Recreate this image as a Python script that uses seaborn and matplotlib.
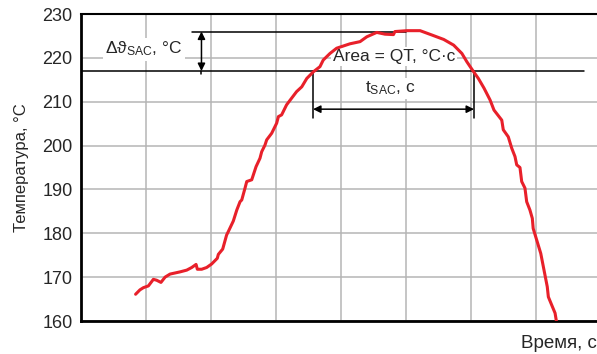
import matplotlib
matplotlib.use("Agg")
import matplotlib.pyplot as plt
import seaborn as sns
import pandas as pd

# time (s) and temperature (°C)
time_s = [25.2, 27.2, 28.8, 31.1, 33.4, 34.9, 36.9, 38.8, 41.1, 45.7, 48.8, 51.1, 53.1, 53.7,
          55.7, 58.0, 60.3, 62.9, 63.4, 65.4, 67.2, 68.0, 70.3, 71.9, 73.4, 74.2, 75.7, 76.5,
          78.8, 80.8, 82.6, 83.4, 84.9, 85.7, 88.0, 88.8, 90.3, 91.1, 92.6, 94.9, 97.2, 99.5,
          101.9, 104.2, 107.2, 110.3, 111.8, 114.9, 118.0, 124.1, 128.8, 131.9, 136.5, 140.3,
          144.2, 144.9, 150.5, 156.5, 162.0, 167.4, 172.0, 175.8, 178.1, 181.1, 183.4, 186.0,
          188.8, 190.6, 194.2, 194.9, 197.2, 198.8, 200.3, 201.1, 202.6, 203.4, 204.9, 205.7,
          207.2, 208.3, 208.7, 210.3, 212.2, 213.7, 215.2, 215.7, 217.2, 218.8, 219.4]
temp_c = [166.1, 167.1, 167.6, 168.0, 169.5, 169.3, 168.8, 170.0, 170.7, 171.2, 171.6, 172.2, 172.9, 171.8,
          171.8, 172.2, 173.0, 174.3, 175.2, 176.4, 179.6, 180.4, 182.8, 185.3, 187.2, 187.6, 190.3, 191.8,
          192.2, 195.2, 197.1, 198.6, 200.1, 201.3, 202.8, 203.6, 205.1, 206.6, 207.0, 209.3, 210.8, 212.3,
          213.4, 215.3, 216.8, 218.0, 219.5, 221.0, 222.2, 223.2, 223.7, 224.8, 225.8, 225.4,
          225.3, 226.0, 226.2, 226.2, 225.2, 224.2, 222.9, 221.0, 219.1, 216.9, 215.3, 213.1,
          210.4, 208.1, 205.8, 203.6, 202.0, 199.4, 197.5, 195.6, 195.0, 191.8, 190.3, 187.2,
          185.3, 183.4, 181.1, 178.5, 175.4, 171.6, 167.8, 165.5, 163.7, 161.8, 160.0]

y_ticks = [160, 170, 180, 190, 200, 210, 220, 230]
x_grid = [0, 30, 60, 90, 120, 150, 180, 210, 240]

t_sac_level = 217.0
peak_level = 226.0
t_start, t_end = 107.1, 181.4
dtheta_x = 55.6
arrow_y = 208.3

df = pd.DataFrame({"t": time_s, "T": temp_c})

sns.set_style("white")
plt.rcParams["font.family"] = ["Liberation Sans", "DejaVu Sans"]
plt.rcParams["mathtext.fontset"] = "custom"
plt.rcParams["mathtext.rm"] = "Liberation Sans"
plt.rcParams["mathtext.it"] = "Liberation Sans:italic"

fig = plt.figure(figsize=(5.97, 3.54), dpi=100)
ax = fig.add_axes([81 / 597, 33 / 354, 520 / 597, 307 / 354])

ax.set_xlim(0, 240)
ax.set_ylim(160, 230)
ax.set_yticks(y_ticks)
ax.set_xticks(x_grid)
ax.set_xticklabels([])
ax.grid(True, color="#b5b5b5", lw=1.1)
ax.set_axisbelow(True)
ax.tick_params(axis="both", length=0, labelsize=13, pad=6)

for s in ["left", "bottom"]:
    ax.spines[s].set_color("black")
    ax.spines[s].set_linewidth(2)
ax.spines["top"].set_color("black")
ax.spines["top"].set_linewidth(1.5)
ax.spines["right"].set_visible(False)

# reference lines
ax.plot([0, 232], [t_sac_level, t_sac_level], color="black", lw=1.1, zorder=3)
ax.plot([51.2, 150], [peak_level, peak_level], color="black", lw=1.1, zorder=3)
ax.plot([dtheta_x, dtheta_x], [t_sac_level, 216.4], color="black", lw=1.1, zorder=3)
ax.annotate("", xy=(dtheta_x, t_sac_level), xytext=(dtheta_x, peak_level),
            arrowprops=dict(arrowstyle="<|-|>", color="black", lw=1.1,
                            mutation_scale=11, shrinkA=0, shrinkB=0), zorder=3)
for xv in (t_start, t_end):
    ax.plot([xv, xv], [t_sac_level, 206.3], color="black", lw=1.1, zorder=3)
ax.annotate("", xy=(t_start, arrow_y), xytext=(t_end, arrow_y),
            arrowprops=dict(arrowstyle="<|-|>", color="black", lw=1.1,
                            mutation_scale=11, shrinkA=0, shrinkB=0), zorder=3)

box = dict(facecolor="white", edgecolor="none", pad=1.5)
ax.text(29.1, 222.0, "Δϑ$_{\\mathrm{SAC}}$, °C", fontsize=12.5,
        ha="center", va="center", bbox=box, zorder=2)
ax.text(144.5, 220.3, "Area = QT, °C·c", fontsize=12.5,
        ha="center", va="center", bbox=box, zorder=2)
ax.text(142.6, 213.0, "t$_{\\mathrm{SAC}}$, c", fontsize=12.5,
        ha="center", va="center", bbox=box, zorder=2)

sns.lineplot(data=df, x="t", y="T", ax=ax, color="#e8202a", lw=2.2,
             estimator=None, sort=False, zorder=4)

ax.set_xlabel("")
ax.set_ylabel("Температура, °C", fontsize=12, labelpad=10)
fig.text(597 / 597, 11 / 354, "Время, с", fontsize=13.5, ha="right", va="center")

fig.savefig("out.png", dpi=100)
